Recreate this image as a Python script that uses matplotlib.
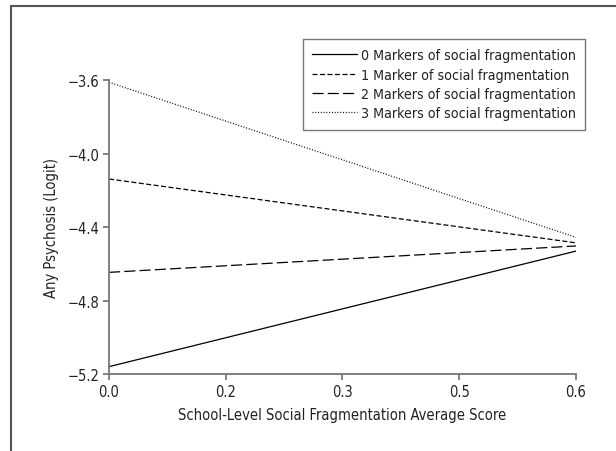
import matplotlib.pyplot as plt
from matplotlib.lines import Line2D

plt.rcParams['font.family'] = ['DejaVu Sans']
plt.rcParams['font.stretch'] = 'condensed'
plt.rcParams['lines.scale_dashes'] = False

# fitted logit of any psychosis at the two ends of the school score range
score = [0.0, 0.6]
logit_0 = [-5.16, -4.53]
logit_1 = [-4.137, -4.485]
logit_2 = [-4.646, -4.502]
logit_3 = [-3.61, -4.455]
labels = ["0 Markers of social fragmentation",
          "1 Marker of social fragmentation",
          "2 Markers of social fragmentation",
          "3 Markers of social fragmentation"]

xticks = [0.0, 0.15, 0.3, 0.45, 0.6]
xtick_labels = ["0.0", "0.2", "0.3", "0.5", "0.6"]
yticks = [-5.2, -4.8, -4.4, -4.0, -3.6]
ytick_labels = ["\u22125.2", "\u22124.8", "\u22124.4", "\u22124.0", "\u22123.6"]

fig = plt.figure(figsize=(6.16, 4.52), dpi=100)
ax = fig.add_axes([0.177, 0.1704, 0.758, 0.6493])

lw = 0.9
ax.plot(score, logit_0, color='black', lw=lw, linestyle='-', label=labels[0])
ax.plot(score, logit_1, color='black', lw=lw, dashes=(3.6, 1.8), label=labels[1])
ax.plot(score, logit_2, color='black', lw=lw, dashes=(8, 3), label=labels[2])
ax.plot(score, logit_3, color='black', lw=lw, dashes=(0.7, 1.3), label=labels[3])

ax.set_xlim(0, 0.6)
ax.set_ylim(-5.2, -3.6)
ax.set_xticks(xticks)
ax.set_xticklabels(xtick_labels)
ax.set_yticks(yticks)
ax.set_yticklabels(ytick_labels)

for side in ['top', 'right']:
    ax.spines[side].set_visible(False)
for side in ['left', 'bottom']:
    ax.spines[side].set_color('#777777')
    ax.spines[side].set_linewidth(1.3)
ax.tick_params(colors='#777777', width=1.3, length=4, labelsize=10.5,
               labelcolor='#222222', pad=3)

ax.set_xlabel("School-Level Social Fragmentation Average Score",
              fontsize=10.5, color='#222222', labelpad=6)
ax.set_ylabel("Any Psychosis (Logit)", fontsize=10.5, color='#222222', labelpad=6)

leg = ax.legend(loc='upper right', bbox_to_anchor=(585 / 616, 1 - 40 / 452),
                bbox_transform=fig.transFigure, fontsize=10.2, frameon=True,
                fancybox=False, handlelength=3.2, handletextpad=0.25,
                labelspacing=0.38, borderpad=0.65, borderaxespad=0)
leg.get_frame().set_edgecolor('#555555')
leg.get_frame().set_linewidth(1.0)
for t in leg.get_texts():
    t.set_color('#222222')

# outer frame: only the top and left edges
fig.add_artist(Line2D([11 / 616, 11 / 616], [0, 1 - 7 / 452], transform=fig.transFigure,
                      color='#555555', lw=1.5))
fig.add_artist(Line2D([11 / 616, 1], [1 - 7 / 452, 1 - 7 / 452], transform=fig.transFigure,
                      color='#555555', lw=1.5))

fig.savefig('out.png', dpi=100)
